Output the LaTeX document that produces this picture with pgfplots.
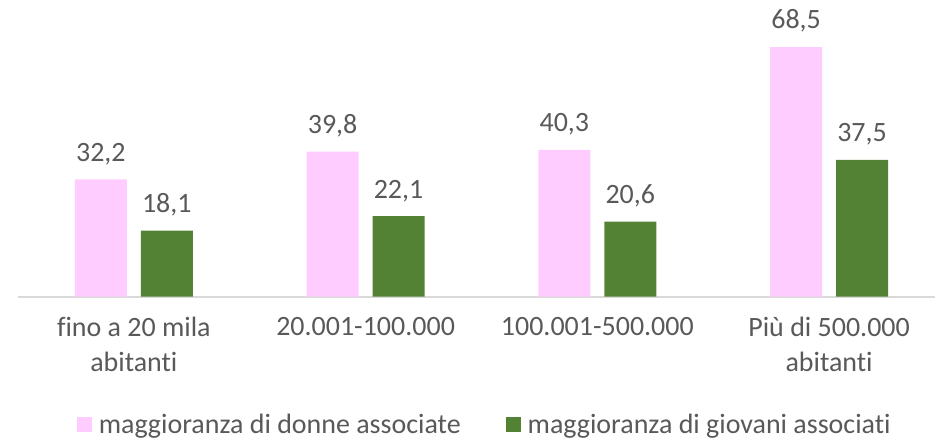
\documentclass[border=0pt]{standalone}
\usepackage{pgfplots}
\pgfplotsset{compat=1.18}
\usepackage{fontspec}
\setmainfont{Carlito}[Ligatures=CommonOff]
\definecolor{pinkc}{HTML}{FFCCFF}
\definecolor{greenc}{HTML}{548235}
\definecolor{txt}{HTML}{595959}
\definecolor{axl}{HTML}{D9D9D9}
\begin{document}
\begin{tikzpicture}[x=1pt,y=1pt]
\path (0,0) rectangle (936,441);
\begin{axis}[
  at={(18pt,144pt)}, anchor=south west,
  scale only axis, width=918pt, height=297pt,
  ybar, bar width=52pt,
  xmin=-0.5, xmax=3.457, ymin=0, ymax=81.4,
  axis y line=none,
  axis x line*=bottom,
  x axis line style={axl, line width=2pt, -},
  xtick=data, xtick style={draw=none},
  xticklabels={{fino a 20 mila\\abitanti},{20.001-100.000},{100.001-500.000},{Più di 500.000\\abitanti}},
  xticklabel style={align=center, font=\fontsize{28}{35}\selectfont, text=txt, yshift=-13pt},
  nodes near coords,
  every node near coord/.append style={font=\fontsize{28}{32}\selectfont, text=txt, yshift=11pt},
  /pgf/number format/.cd, use comma, fixed, fixed zerofill, precision=1, assume math mode=true,
  /pgfplots/.cd,
  legend columns=2,
  legend style={at={(0.509,0)}, yshift=-128pt, anchor=center, draw=none, font=\fontsize{28}{32}\selectfont, text=txt,
    /tikz/every even column/.append style={column sep=43pt}},
  legend image code/.code={\fill[#1] (0pt,-7pt) rectangle (15pt,8pt); \path (20pt,0pt);},
  clip=false,
]
\addplot[draw=none, fill=pinkc, bar shift=-33pt] coordinates {(0,32.2) (1,39.8) (2,40.3) (3,68.5)};
\addplot[draw=none, fill=greenc, bar shift=33pt] coordinates {(0,18.1) (1,22.1) (2,20.6) (3,37.5)};
\legend{maggioranza di donne associate, maggioranza di giovani associati}
\end{axis}
\end{tikzpicture}
\end{document}
